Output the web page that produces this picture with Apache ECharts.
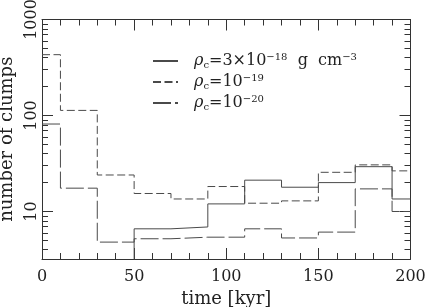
<!DOCTYPE html>
<html>
<head>
<meta charset="utf-8">
<script src="https://cdn.jsdelivr.net/npm/echarts@6/dist/echarts.min.js"></script>
<style>html,body{margin:0;padding:0;background:#fff}#c{width:425px;height:307px}</style>
</head>
<body>
<div id="c"></div>
<script>
// bin edges in kyr (each bin runs from edge[i] to edge[i+1])
var binEdges = [0, 10, 30, 50, 70, 90, 110, 130, 150, 170, 190, 200];
// number of clumps per bin (values of 1 lie below the visible axis floor)
var clumpsRho3e18 = [1, 1, 1, 6.6, 6.9, 12.0, 21.2, 17.9, 20.0, 29.3, 13.5];
var clumpsRho1e19 = [430, 113, 24, 15.4, 13.5, 18.2, 12.2, 12.9, 25.6, 30.6, 26.5];
var clumpsRho1e20 = [81.5, 17.5, 4.8, 5.2, 5.4, 5.4, 6.6, 5.3, 6.1, 17.2, 10.0];
var seriesNames = ['rho3e18', 'rho1e19', 'rho1e20'];
var xTicks = [0, 50, 100, 150, 200];
var yMajorTicks = [10, 100, 1000];
var yMinorTicks = [4, 5, 6, 7, 8, 9, 20, 30, 40, 50, 60, 70, 80, 90, 200, 300, 400, 500, 600, 700, 800, 900];
var yMin = 3.2, yMax = 1000;

function stepData(vals) {
  var d = [];
  for (var i = 0; i < vals.length; i++) d.push([binEdges[i], vals[i]]);
  d.push([binEdges[binEdges.length - 1], vals[vals.length - 1]]);
  return d;
}

var FONT = 'DejaVu Serif';
var LC = '#4a4a4a';
var AX = '#333';

var chart = echarts.init(document.getElementById('c'), null, {renderer: 'canvas'});

function xAx(pos, labels) {
  return {
    type: 'value', position: pos, min: 0, max: 200, interval: 50,
    axisLine: {show: true, lineStyle: {color: AX, width: 1}},
    axisTick: {show: true, inside: true, length: 11, lineStyle: {color: AX}},
    minorTick: {show: true, splitNumber: 5, length: 6, lineStyle: {color: AX}},
    splitLine: {show: false}, minorSplitLine: {show: false},
    axisLabel: {show: labels, customValues: xTicks, fontFamily: FONT, fontSize: 16, color: '#222', margin: 10},
    name: labels ? 'time [kyr]' : '', nameLocation: 'middle', nameGap: 29,
    nameTextStyle: {fontFamily: FONT, fontSize: 18, color: '#222'}
  };
}
function yAx(pos, major, labels) {
  return {
    type: 'log', logBase: 10, position: pos, min: yMin, max: yMax,
    axisLine: {show: major, lineStyle: {color: AX, width: 1}},
    axisTick: {show: true, inside: true, length: major ? 11 : 6, customValues: major ? yMajorTicks : yMinorTicks, lineStyle: {color: AX}},
    splitLine: {show: false},
    axisLabel: {show: labels, customValues: yMajorTicks, rotate: 90, fontFamily: FONT, fontSize: 16, color: '#222', margin: 2,
      formatter: function (v) { return String(Math.round(v)); }},
    name: labels ? 'number of clumps' : '', nameLocation: 'middle', nameGap: 25, nameRotate: 90,
    nameTextStyle: {fontFamily: FONT, fontSize: 18, color: '#222'}
  };
}

var legendText = {
  rho3e18: '{r|ρ}{s|c}{t|=3×10}{p|−18}{t|  g  cm}{p|−3}',
  rho1e19: '{r|ρ}{s|c}{t|=10}{p|−19}',
  rho1e20: '{r|ρ}{s|c}{t|=10}{p|−20}'
};

var dashes = [null, [8, 3.5], [18, 4]];
var allVals = [clumpsRho3e18, clumpsRho1e19, clumpsRho1e20];
var series = seriesNames.map(function (n, i) {
  return {
    name: n, type: 'line', step: 'end', data: stepData(allVals[i]),
    xAxisIndex: 0, yAxisIndex: 0, symbol: 'none', clip: true,
    lineStyle: {color: LC, width: 1, type: dashes[i] || 'solid'},
    itemStyle: {color: LC}, animation: false
  };
});

chart.setOption({
  animation: false,
  grid: {left: 42, right: 14.5, top: 19.5, bottom: 48, containLabel: false, outerBoundsMode: 'none'},
  xAxis: [xAx('bottom', true), xAx('top', false)],
  yAxis: [yAx('left', true, true), yAx('left', false, false), yAx('right', true, false), yAx('right', false, false)],
  legend: {
    orient: 'vertical', left: 152, top: 52, padding: 0, itemGap: 3,
    itemWidth: 25, itemHeight: 14,
    itemStyle: {opacity: 0},
    data: seriesNames,
    formatter: function (n) { return legendText[n]; },
    textStyle: {
      padding: [0, 0, 0, 11],
      rich: {
        r: {fontFamily: FONT, fontSize: 16, fontStyle: 'italic', color: '#222', lineHeight: 18},
        s: {fontFamily: FONT, fontSize: 10, color: '#222', lineHeight: 18, verticalAlign: 'bottom'},
        t: {fontFamily: FONT, fontSize: 16, color: '#222', lineHeight: 18},
        p: {fontFamily: FONT, fontSize: 10, color: '#222', lineHeight: 18, verticalAlign: 'top'}
      }
    }
  },
  series: series
});
</script>
</body>
</html>
